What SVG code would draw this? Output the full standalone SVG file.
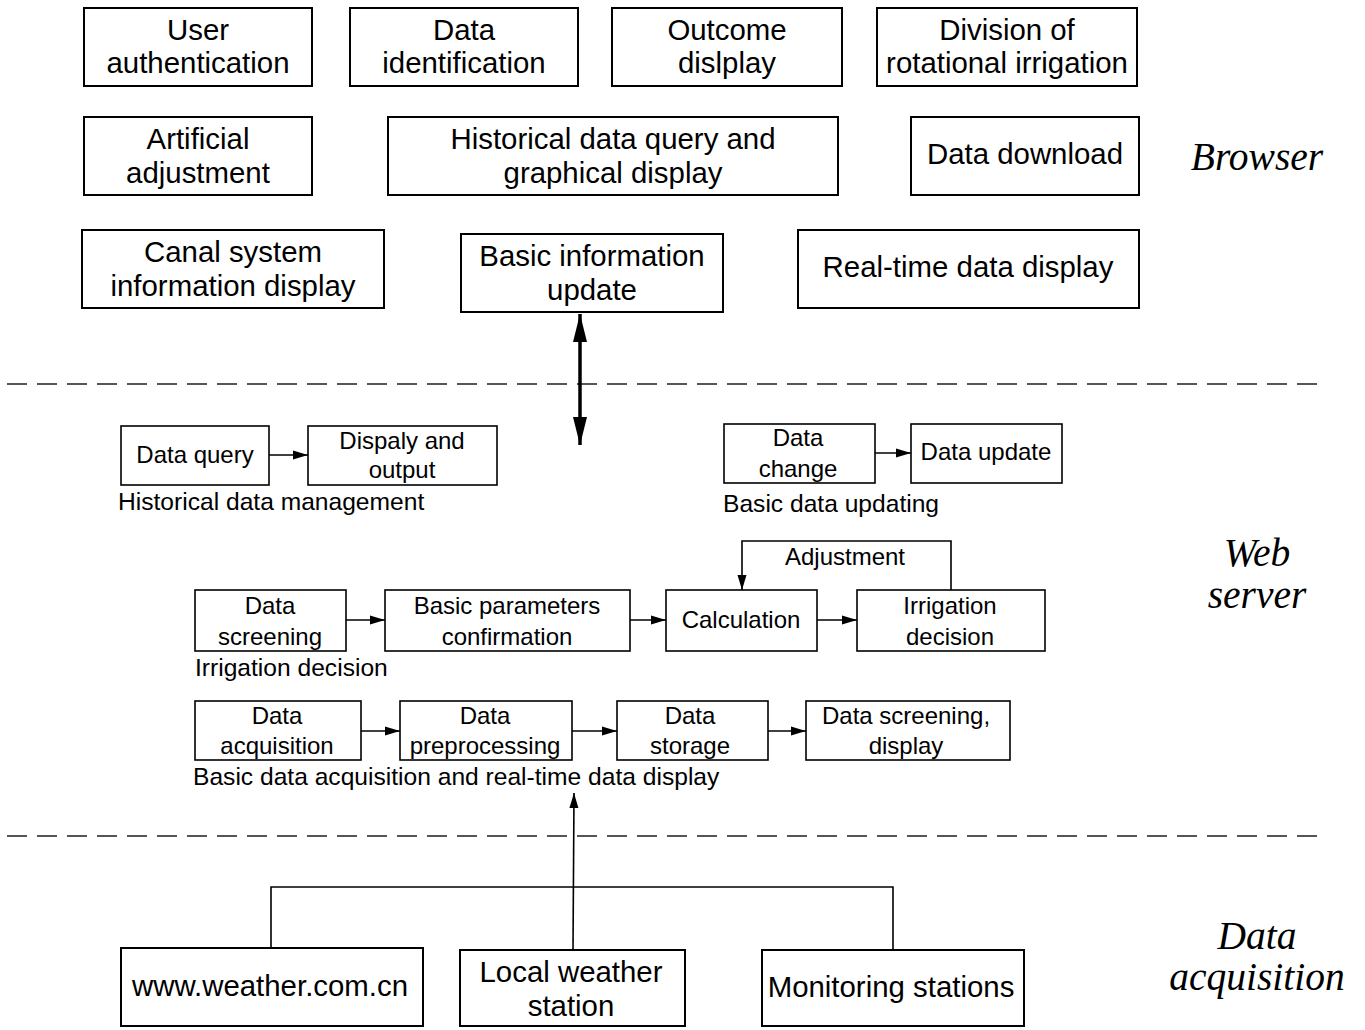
<svg xmlns="http://www.w3.org/2000/svg" width="1365" height="1030" viewBox="0 0 1365 1030">
<style>
.b{fill:#fff;stroke:#000;stroke-width:2}
.s{fill:#fff;stroke:#000;stroke-width:1.6}
.t{font-family:"Liberation Sans",Arial,sans-serif;font-size:29.4px;fill:#000;text-anchor:middle}
.m{font-family:"Liberation Sans",Arial,sans-serif;font-size:24px;fill:#000;text-anchor:middle}
.l{font-family:"Liberation Sans",Arial,sans-serif;font-size:24.6px;fill:#000}
.i{font-family:"Liberation Serif","Times New Roman",serif;font-style:italic;font-size:39.5px;fill:#000;text-anchor:middle}
.c{fill:none;stroke:#000;stroke-width:1.6}
.d{fill:none;stroke:#555;stroke-width:2;stroke-dasharray:20 10}
</style>
<defs>
<marker id="ah" markerWidth="15" markerHeight="10" refX="15" refY="5" orient="auto" markerUnits="userSpaceOnUse">
<path d="M0,0.5 L15,5 L0,9.5 Z" fill="#000"/>
</marker>
<marker id="big" markerWidth="28" markerHeight="16" refX="28" refY="8" orient="auto-start-reverse" markerUnits="userSpaceOnUse">
<path d="M0,1 L28,8 L0,15 Z" fill="#000"/>
</marker>
</defs>
<rect width="1365" height="1030" fill="#fff"/>

<g id="separators">
<line class="d" x1="7" y1="384" x2="1325" y2="384"/>
<line class="d" x1="7" y1="836" x2="1325" y2="836"/>
</g>

<g id="layer-labels">
<text class="i" x="1257" y="170">Browser</text>
<text class="i" x="1257" y="566">Web</text>
<text class="i" x="1257" y="608">server</text>
<text class="i" x="1257" y="949">Data</text>
<text class="i" x="1257" y="990">acquisition</text>
</g>

<g id="connectors">
<line x1="580" y1="314" x2="580" y2="445" stroke="#000" stroke-width="3.5" marker-start="url(#big)" marker-end="url(#big)"/>
<line class="c" x1="269" y1="455" x2="308" y2="455" marker-end="url(#ah)"/>
<line class="c" x1="875" y1="453" x2="911" y2="453" marker-end="url(#ah)"/>
<line class="c" x1="346" y1="620" x2="385" y2="620" marker-end="url(#ah)"/>
<line class="c" x1="630" y1="620" x2="666" y2="620" marker-end="url(#ah)"/>
<line class="c" x1="817" y1="620" x2="857" y2="620" marker-end="url(#ah)"/>
<polyline class="c" points="951,590 951,541 742,541 742,590" marker-end="url(#ah)"/>
<line class="c" x1="361" y1="731" x2="400" y2="731" marker-end="url(#ah)"/>
<line class="c" x1="572" y1="731" x2="617" y2="731" marker-end="url(#ah)"/>
<line class="c" x1="768" y1="731" x2="806" y2="731" marker-end="url(#ah)"/>
<line class="c" x1="573" y1="950" x2="574" y2="793" marker-end="url(#ah)"/>
<polyline class="c" points="271,948 271,887 893,887 893,950"/>
</g>

<g id="n-user-auth"><rect class="b" x="84" y="8" width="228" height="78"/><text class="t" x="198" y="40">User</text><text class="t" x="198" y="73">authentication</text></g>
<g id="n-data-ident"><rect class="b" x="350" y="8" width="228" height="78"/><text class="t" x="464" y="40">Data</text><text class="t" x="464" y="73">identification</text></g>
<g id="n-outcome"><rect class="b" x="612" y="8" width="230" height="78"/><text class="t" x="727" y="40">Outcome</text><text class="t" x="727" y="73">dislplay</text></g>
<g id="n-division"><rect class="b" x="877" y="8" width="260" height="78"/><text class="t" x="1007" y="40">Division of</text><text class="t" x="1007" y="73">rotational irrigation</text></g>
<g id="n-artificial"><rect class="b" x="84" y="117" width="228" height="78"/><text class="t" x="198" y="149">Artificial</text><text class="t" x="198" y="183">adjustment</text></g>
<g id="n-historical"><rect class="b" x="388" y="117" width="450" height="78"/><text class="t" x="613" y="149">Historical data query and</text><text class="t" x="613" y="183">graphical display</text></g>
<g id="n-download"><rect class="b" x="911" y="117" width="228" height="78"/><text class="t" x="1025" y="164">Data download</text></g>
<g id="n-canal"><rect class="b" x="82" y="230" width="302" height="78"/><text class="t" x="233" y="262">Canal system</text><text class="t" x="233" y="296">information display</text></g>
<g id="n-basic-info"><rect class="b" x="461" y="234" width="262" height="78"/><text class="t" x="592" y="266">Basic information</text><text class="t" x="592" y="300">update</text></g>
<g id="n-realtime"><rect class="b" x="798" y="230" width="341" height="78"/><text class="t" x="968" y="277">Real-time data display</text></g>

<g id="n-data-query"><rect class="s" x="121" y="426" width="148" height="59"/><text class="m" x="195" y="463">Data query</text></g>
<g id="n-dispaly"><rect class="s" x="308" y="426" width="189" height="59"/><text class="m" x="402" y="449">Dispaly and</text><text class="m" x="402" y="478">output</text></g>
<text class="l" x="118" y="510">Historical data management</text>
<g id="n-data-change"><rect class="s" x="724" y="424" width="151" height="59"/><text class="m" x="798" y="446">Data</text><text class="m" x="798" y="477">change</text></g>
<g id="n-data-update"><rect class="s" x="911" y="424" width="151" height="59"/><text class="m" x="986" y="460">Data update</text></g>
<text class="l" x="723" y="512">Basic data updating</text>

<text class="m" x="845" y="565">Adjustment</text>
<g id="n-data-screening"><rect class="s" x="195" y="590" width="151" height="61"/><text class="m" x="270" y="614">Data</text><text class="m" x="270" y="645">screening</text></g>
<g id="n-basic-params"><rect class="s" x="385" y="590" width="245" height="61"/><text class="m" x="507" y="614">Basic parameters</text><text class="m" x="507" y="645">confirmation</text></g>
<g id="n-calculation"><rect class="s" x="666" y="590" width="151" height="61"/><text class="m" x="741" y="628">Calculation</text></g>
<g id="n-irrigation-decision"><rect class="s" x="857" y="590" width="188" height="61"/><text class="m" x="950" y="614">Irrigation</text><text class="m" x="950" y="645">decision</text></g>
<text class="l" x="195" y="676">Irrigation decision</text>

<g id="n-data-acq"><rect class="s" x="195" y="701" width="166" height="59"/><text class="m" x="277" y="724">Data</text><text class="m" x="277" y="754">acquisition</text></g>
<g id="n-data-pre"><rect class="s" x="400" y="701" width="172" height="59"/><text class="m" x="485" y="724">Data</text><text class="m" x="485" y="754">preprocessing</text></g>
<g id="n-data-storage"><rect class="s" x="617" y="701" width="151" height="59"/><text class="m" x="690" y="724">Data</text><text class="m" x="690" y="754">storage</text></g>
<g id="n-data-screen-disp"><rect class="s" x="806" y="701" width="204" height="59"/><text class="m" x="906" y="724">Data screening,</text><text class="m" x="906" y="754">display</text></g>
<text class="l" x="193" y="785">Basic data acquisition and real-time data display</text>

<g id="n-weather"><rect class="b" x="121" y="948" width="302" height="78"/><text class="t" x="270" y="996">www.weather.com.cn</text></g>
<g id="n-local"><rect class="b" x="460" y="950" width="225" height="76"/><text class="t" x="571" y="982">Local weather</text><text class="t" x="571" y="1016">station</text></g>
<g id="n-monitoring"><rect class="b" x="762" y="950" width="262" height="76"/><text class="t" x="891" y="997">Monitoring stations</text></g>
</svg>
